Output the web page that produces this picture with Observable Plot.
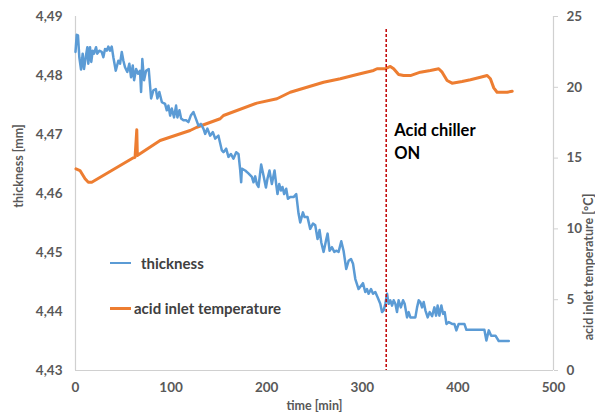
<!DOCTYPE html>
<html>
<head>
<meta charset="utf-8">
<script src="https://cdn.jsdelivr.net/npm/d3@7"></script>
<script src="https://cdn.jsdelivr.net/npm/@observablehq/plot@0.6"></script>
<style>
  html, body { margin: 0; padding: 0; background: #fff; }
  #wrap { position: relative; width: 595px; height: 414px; overflow: hidden; font-family: Lato, "Open Sans", sans-serif; }
  .leg { position: absolute; display: flex; align-items: center; font-weight: bold; font-size: 15px; color: #404040; }
  .leg span.sw { display: inline-block; width: 21px; height: 3px; margin-right: 3px; }
</style>
</head>
<body>
<div id="wrap"></div>
<script>
// thickness series (time in min, thickness in mm)
const thickTime = [0,1.3,2.6,4.0,5.8,7.5,8.9,10.7,12.4,13.4,15.2,16.5,18.0,19.4,21.5,22.8,24.9,27.4,29.1,30.9,32.7,34.3,36.1,37.9,39.6,42.1,44.8,46.6,48.4,50.1,51.8,54.2,56.3,58.1,59.9,61.3,63.4,65.4,67.5,68.6,69.9,71.7,73.8,76.6,79.1,81.5,84.0,85.7,87.7,90.3,93.7,95.5,97.2,99.0,100.7,103.1,105.2,106.6,108.7,110.5,112.9,115.7,118.1,120.6,123.4,125.9,128.6,131.1,133.8,135.6,138.0,140.8,143.7,146.1,149.5,153.1,154.8,157.6,160.0,162.5,165.2,168.1,170.5,172.3,173.3,174.0,177.5,180.9,184.5,186.2,188.0,189.7,191.4,194.2,196.6,199.2,200.8,202.9,205.4,208.2,209.9,211.3,213.1,214.9,216.5,218.3,220.4,222.2,224.6,228.1,230.9,233.3,235.1,237.9,239.6,242.7,245.5,248.4,250.8,253.2,255.3,257.1,259.5,262.0,263.7,265.8,268.3,270.7,273.1,275.2,278.0,280.4,283.2,285.7,288.2,290.3,292.7,296.1,300.7,303.1,304.9,306.6,309.1,311.2,313.6,316.0,318.8,320.6,322.3,324.1,325.9,327.5,329.3,331.1,332.8,334.6,336.3,338.0,340.3,342.6,344.3,346.8,348.5,350.3,355.5,357.3,359.0,360.7,362.5,364.2,366.0,368.4,370.5,373.0,375.4,377.2,378.8,380.6,382.7,384.5,386.2,388.0,390.4,393.9,396.3,398.4,400.8,406.8,408.9,416.5,427.7,429.8,432.3,434.8,439.3,442.7,453.2];
const thickness = [4.4840,4.4869,4.4868,4.4831,4.4810,4.4837,4.4811,4.4831,4.4848,4.4820,4.4848,4.4823,4.4842,4.4837,4.4848,4.4837,4.4842,4.4840,4.4831,4.4845,4.4842,4.4849,4.4842,4.4849,4.4831,4.4808,4.4825,4.4820,4.4840,4.4825,4.4814,4.4806,4.4820,4.4797,4.4817,4.4792,4.4811,4.4803,4.4808,4.4772,4.4828,4.4792,4.4808,4.4811,4.4761,4.4775,4.4777,4.4761,4.4772,4.4755,4.4752,4.4741,4.4749,4.4732,4.4744,4.4729,4.4749,4.4729,4.4741,4.4727,4.4724,4.4724,4.4721,4.4732,4.4738,4.4727,4.4715,4.4718,4.4710,4.4701,4.4710,4.4698,4.4704,4.4693,4.4698,4.4673,4.4670,4.4676,4.4662,4.4667,4.4659,4.4670,4.4667,4.4639,4.4619,4.4642,4.4639,4.4634,4.4628,4.4619,4.4629,4.4616,4.4611,4.4649,4.4631,4.4610,4.4625,4.4639,4.4616,4.4639,4.4616,4.4599,4.4616,4.4605,4.4611,4.4599,4.4608,4.4591,4.4594,4.4594,4.4599,4.4566,4.4551,4.4568,4.4560,4.4560,4.4540,4.4549,4.4546,4.4523,4.4538,4.4517,4.4501,4.4520,4.4532,4.4503,4.4509,4.4501,4.4503,4.4501,4.4519,4.4503,4.4472,4.4486,4.4489,4.4481,4.4455,4.4438,4.4448,4.4433,4.4438,4.4430,4.4438,4.4430,4.4433,4.4424,4.4413,4.4399,4.4402,4.4413,4.4430,4.4413,4.4419,4.4410,4.4419,4.4413,4.4399,4.4419,4.4407,4.4419,4.4413,4.4390,4.4399,4.4390,4.4390,4.4407,4.4419,4.4416,4.4407,4.4416,4.4402,4.4390,4.4399,4.4392,4.4407,4.4393,4.4410,4.4393,4.4410,4.4396,4.4399,4.4379,4.4382,4.4379,4.4379,4.4368,4.4379,4.4379,4.4369,4.4369,4.4369,4.4351,4.4368,4.4359,4.4359,4.4350,4.4350];

// acid inlet temperature series (time in min, temperature in °C)
const tempTime = [0.5,4.7,10.0,13.4,17.0,36.1,60.5,62.3,64.1,64.7,88.5,119.9,126.9,151.3,154.8,189.7,210.7,224.6,259.5,277.0,294.5,311.8,315.4,324.1,329.3,332.8,338.0,343.2,350.3,360.7,371.2,379.9,383.5,388.7,393.9,404.4,413.1,423.6,430.6,434.0,437.5,441.0,451.5,456.8];
const temperature = [14.24,14.12,13.54,13.30,13.30,14.05,15.02,15.06,17.0,15.18,16.24,16.95,17.18,17.78,18.01,18.88,19.19,19.65,20.36,20.60,20.90,21.19,21.31,21.31,21.47,21.31,20.90,20.83,20.83,21.07,21.19,21.31,21.07,20.48,20.29,20.41,20.53,20.71,20.83,20.60,19.96,19.65,19.65,19.72];

// axes
const xTicks = [0, 100, 200, 300, 400, 500];
const yTicks = [4.43, 4.44, 4.45, 4.46, 4.47, 4.48, 4.49];
const tempTicks = [0, 5, 10, 15, 20, 25];
const thickDomain = [4.43, 4.49];
const tempDomain = [0, 25];

// annotation
const chillerTime = 325;
const chillerLineTop = 4.4878;
const chillerLabel = "Acid chiller\nON";
const chillerLabelY = 4.4725;
const leftTitleY = 4.4576;

const labels = { left: "thickness [mm]", right: "acid inlet temperature [°C]", bottom: "time [min]" };
const seriesNames = ["thickness", "acid inlet temperature"];
const colors = { thick: "#5B9BD5", temp: "#ED7D31" };

const tempToY = d3.scaleLinear(tempDomain, thickDomain);

const thickData = thickTime.map((t, i) => ({ t, v: thickness[i] }));
const tempData = tempTime.map((t, i) => ({ t, v: tempToY(temperature[i]) }));

const textGray = "#595959";
const axisGray = "#D0D0D0";
const tickFont = 13.5;
const titleFont = 12.5;

const chart = Plot.plot({
  width: 595,
  height: 414,
  marginLeft: 75,
  marginRight: 42,
  marginTop: 16,
  marginBottom: 44,
  style: { fontFamily: "Lato, 'Open Sans', sans-serif", background: "#fff", overflow: "visible" },
  x: { domain: [0, 500] },
  y: { domain: thickDomain },
  marks: [
    Plot.ruleX([0], { stroke: axisGray, strokeWidth: 1.2 }),
    Plot.ruleX([500], { stroke: axisGray, strokeWidth: 1.2 }),
    Plot.ruleY([thickDomain[0]], { stroke: axisGray, strokeWidth: 1.2 }),
    Plot.axisX(xTicks, { tickSize: 0, tickPadding: 12, fontSize: tickFont, fontWeight: "bold", fill: textGray, label: null, tickFormat: d => String(d) }),
    Plot.axisY(yTicks, { tickSize: 0, tickPadding: 13, fontSize: tickFont, fontWeight: "bold", fill: textGray, label: null, tickFormat: d => d.toFixed(2).replace(".", ",") }),
    Plot.axisY(tempTicks.map(tempToY), { anchor: "right", tickSize: 4, tickPadding: 9, stroke: axisGray, fontSize: tickFont, fontWeight: "bold", fill: textGray, label: null, tickFormat: d => String(Math.round(tempToY.invert(d))) }),
    Plot.text([labels.left], { frameAnchor: "left", y: () => leftTitleY, dx: -57, rotate: -90, fontSize: titleFont, fontWeight: "bold", fill: textGray }),
    Plot.text([labels.right], { frameAnchor: "right", dx: 35, rotate: -90, fontSize: titleFont, fontWeight: "bold", fill: textGray }),
    Plot.text([labels.bottom], { frameAnchor: "bottom", dy: 39, fontSize: titleFont, fontWeight: "bold", fill: textGray }),
    Plot.line(tempData, { x: "t", y: "v", stroke: colors.temp, strokeWidth: 3, curve: "linear" }),
    Plot.line(thickData, { x: "t", y: "v", stroke: colors.thick, strokeWidth: 2.5, curve: "linear" }),
    Plot.ruleX([chillerTime], { y1: chillerLineTop, y2: thickDomain[0], stroke: "#C00000", strokeWidth: 1.5, strokeDasharray: "3,2" }),
    Plot.text([chillerLabel], { x: chillerTime, y: chillerLabelY, dx: 8, textAnchor: "start", lineAnchor: "top", lineHeight: 1.4, fontSize: 16.5, fontWeight: "bold", fill: "#000" })
  ]
});

const wrap = document.getElementById("wrap");
wrap.appendChild(chart);

const legendItems = [
  { name: seriesNames[0], color: colors.thick, top: 254, left: 110, h: 2.5 },
  { name: seriesNames[1], color: colors.temp, top: 299, left: 110, h: 3 }
];
legendItems.forEach(it => {
  const d = document.createElement("div");
  d.className = "leg";
  d.style.left = it.left + "px";
  d.style.top = it.top + "px";
  d.style.height = "18px";
  const sw = document.createElement("span");
  sw.className = "sw";
  sw.style.background = it.color;
  sw.style.height = it.h + "px";
  if (it.name === "thickness") sw.style.marginRight = "10px";
  d.appendChild(sw);
  d.appendChild(document.createTextNode(it.name));
  wrap.appendChild(d);
});
</script>
</body>
</html>
